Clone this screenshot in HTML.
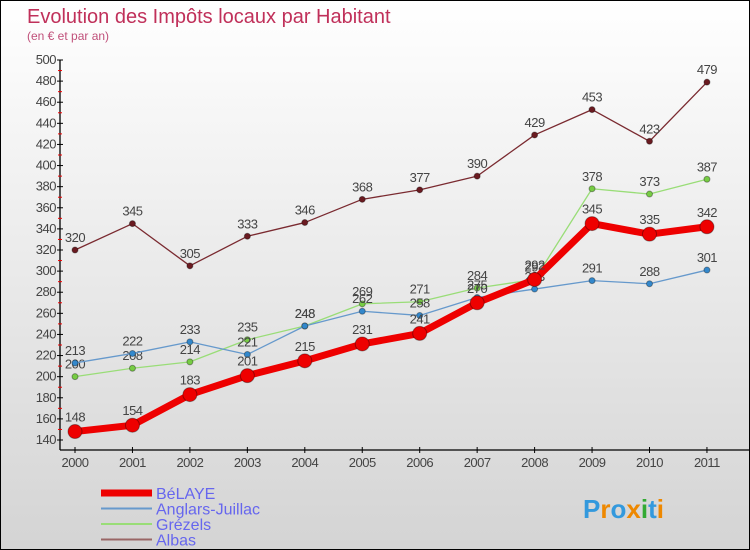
<!DOCTYPE html>
<html><head><meta charset="utf-8"><style>
body{margin:0}
#c{position:relative;width:748px;height:548px;border:1px solid #000;background:linear-gradient(#fff,#d4d4d4);font-family:"Liberation Sans","DejaVu Sans",sans-serif;overflow:hidden}
</style></head><body>
<div id="c">
<svg id="s" width="748" height="548" xmlns="http://www.w3.org/2000/svg" font-family="Liberation Sans, DejaVu Sans, sans-serif"></svg>
</div>
<script>
const years=["2000","2001","2002","2003","2004","2005","2006","2007","2008","2009","2010","2011"];
const belaye=[148,154,183,201,215,231,241,270,292,345,335,342];
const anglars=[213,222,233,221,248,262,258,275,283,291,288,301];
const grezels=[200,208,214,235,248,269,271,284,292,378,373,387];
const albas=[320,345,305,333,346,368,377,390,429,453,423,479];
const yTicks=[140,160,180,200,220,240,260,280,300,320,340,360,380,400,420,440,460,480,500];
const NS="http://www.w3.org/2000/svg";
const s=document.getElementById('s');
function X(i){return 74+i*57.45;}
function Y(v){return 439-(v-140)*(380/360);}
function el(t,a,p){const e=document.createElementNS(NS,t);for(const k in a)e.setAttribute(k,a[k]);(p||s).appendChild(e);return e;}
let t=el('text',{x:26,y:22,fill:'#c0305a','font-size':20});t.textContent='Evolution des Impôts locaux par Habitant';

t=el('text',{x:26,y:39,fill:'#c0507a','font-size':12});t.textContent='(en € et par an)';

el('line',{x1:59,y1:59,x2:59,y2:449,stroke:'#000','stroke-width':1.3});
el('line',{x1:59,y1:449,x2:748,y2:449,stroke:'#000','stroke-width':1.3});
yTicks.forEach((v,i)=>{
  el('line',{x1:56,y1:Y(v),x2:62,y2:Y(v),stroke:'#000'});
  if(i<yTicks.length-1)el('line',{x1:57,y1:Y(v+10),x2:61,y2:Y(v+10),stroke:'#e00'});
  const tt=el('text',{x:55,y:Y(v)+4,'text-anchor':'end','font-size':13,fill:'#444','letter-spacing':'-0.5'});tt.textContent=v;
  
});
years.forEach((y,i)=>{
  el('line',{x1:X(i),y1:446,x2:X(i),y2:452,stroke:'#000'});
  const tt=el('text',{x:X(i),y:466,'text-anchor':'middle','font-size':13,fill:'#444','letter-spacing':'-0.5'});tt.textContent=y;
  
});
function series(d,col,w,r,dot,name){
  const g=el('g',{});
  el('polyline',{points:d.map((v,i)=>X(i)+','+Y(v)).join(' '),fill:'none',stroke:col,'stroke-width':w,'stroke-linejoin':'round'},g);
  d.forEach((v,i)=>{
    const c=el('circle',{cx:X(i),cy:Y(v),r:r,fill:dot,stroke:'rgba(0,0,0,0.35)'},g);
    
    const tt=el('text',{x:X(i),y:Y(v)-8-(r>4?2:0),'text-anchor':'middle','font-size':13,fill:'#444','letter-spacing':'-0.5'},g);tt.textContent=v;
  });
}
series(albas,'#7a2a30',1.3,3,'#6a1a20','albas');
series(grezels,'#99dd77',1.3,3,'#77cc44','grezels');
series(anglars,'#6699cc',1.3,3,'#3388cc','anglars');
series(belaye,'#ee0000',7,7,'#ee0000','belaye');
const lg=[['BéLAYE','#ee0000',7],['Anglars-Juillac','#6699cc',2],['Grézels','#99dd77',2],['Albas','#996666',2]];
lg.forEach((l,i)=>{
  const y=492+i*15.5;
  const g=el('g',{});
  el('line',{x1:100,y1:y,x2:151,y2:y,stroke:l[1],'stroke-width':l[2]},g);
  const tt=el('text',{x:155,y:y+6,'font-size':16,fill:'#6666ee'},g);tt.textContent=l[0];
});
const lt=el('text',{x:582,y:517,'font-size':26,'font-weight':'bold'});

[['P','#3399dd'],['r','#ee8800'],['o','#3399dd'],['x','#ee8800'],['i','#33aa33'],['t','#3399dd'],['i','#ee8800']].forEach(p=>{const ts=el('tspan',{fill:p[1]},lt);ts.textContent=p[0];});
</script>
</body></html>
